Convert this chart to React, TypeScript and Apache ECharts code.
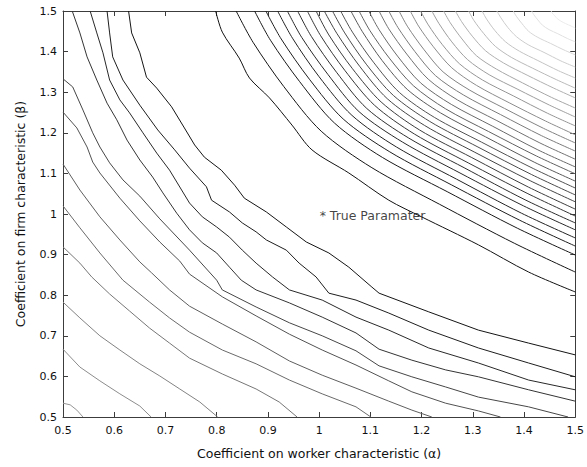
import React, { useEffect, useRef } from 'react';
import * as echarts from 'echarts';

type Pt = [number, number];

// ---- axis settings / texts ----
const axisMin = 0.5;
const axisMax = 1.5;
const axisStep = 0.1;
const xName = 'Coefficient on worker characteristic (α)';
const yName = 'Coefficient on firm characteristic (β)';
const trueLabel = '* True Paramater';
const trueParameter: Pt[] = [[1, 1]];

// ---- lower-left family of contours (alpha, beta) ----
const L1: Pt[] = [[0.5, 0.534], [0.514, 0.53], [0.527, 0.517], [0.539, 0.5]];
const L2: Pt[] = [[0.5, 0.667], [0.533, 0.623], [0.572, 0.589], [0.611, 0.557], [0.65, 0.527], [0.672, 0.5]];
const L3: Pt[] = [[0.5, 0.783], [0.533, 0.744], [0.572, 0.7], [0.611, 0.665], [0.65, 0.631], [0.689, 0.601], [0.728, 0.569], [0.767, 0.537], [0.802, 0.5]];
const L4: Pt[] = [[0.5, 0.919], [0.533, 0.879], [0.556, 0.845], [0.591, 0.803], [0.63, 0.761], [0.669, 0.719], [0.708, 0.682], [0.747, 0.645], [0.811, 0.606], [0.877, 0.569], [0.922, 0.537], [0.957, 0.5]];
const L5: Pt[] = [[0.5, 1.02], [0.533, 0.966], [0.572, 0.904], [0.617, 0.837], [0.669, 0.783], [0.708, 0.744], [0.747, 0.709], [0.811, 0.665], [0.877, 0.631], [0.942, 0.591], [1.006, 0.557], [1.072, 0.525], [1.101, 0.5]];
const L6: Pt[] = [[0.5, 1.123], [0.533, 1.059], [0.572, 0.993], [0.611, 0.936], [0.65, 0.882], [0.673, 0.855], [0.708, 0.813], [0.747, 0.773], [0.811, 0.729], [0.877, 0.685], [0.942, 0.638], [1.006, 0.603], [1.072, 0.571], [1.136, 0.539], [1.181, 0.517], [1.22, 0.5]];
const L7: Pt[] = [[0.5, 1.251], [0.527, 1.212], [0.547, 1.165], [0.558, 1.128], [0.572, 1.101], [0.611, 1.039], [0.65, 0.983], [0.689, 0.931], [0.728, 0.884], [0.747, 0.852], [0.811, 0.796], [0.877, 0.749], [0.942, 0.704], [1.006, 0.665], [1.072, 0.628], [1.136, 0.589], [1.181, 0.562], [1.247, 0.534], [1.311, 0.515], [1.354, 0.5]];
const L8: Pt[] = [[0.5, 1.333], [0.519, 1.313], [0.539, 1.256], [0.558, 1.2], [0.572, 1.165], [0.591, 1.126], [0.617, 1.084], [0.65, 1.044], [0.689, 0.988], [0.747, 0.911], [0.8, 0.837], [0.811, 0.813], [0.877, 0.771], [0.942, 0.732], [1.006, 0.7], [1.072, 0.663], [1.117, 0.626], [1.181, 0.599], [1.247, 0.574], [1.311, 0.549], [1.409, 0.525], [1.486, 0.5]];
const L9: Pt[] = [[0.518, 1.5], [0.533, 1.446], [0.547, 1.387], [0.566, 1.33], [0.586, 1.273], [0.605, 1.232], [0.625, 1.182], [0.65, 1.133], [0.675, 1.091], [0.695, 1.052], [0.722, 1.002], [0.747, 0.961], [0.772, 0.929], [0.8, 0.904], [0.825, 0.869], [0.848, 0.837], [0.877, 0.813], [0.942, 0.781], [1.006, 0.746], [1.072, 0.707], [1.117, 0.667], [1.181, 0.64], [1.247, 0.616], [1.311, 0.599], [1.409, 0.567], [1.5, 0.539]];
const L10: Pt[] = [[0.553, 1.5], [0.566, 1.446], [0.578, 1.397], [0.591, 1.33], [0.611, 1.281], [0.63, 1.249], [0.656, 1.2], [0.683, 1.15], [0.708, 1.108], [0.747, 1.027], [0.772, 0.993], [0.8, 0.968], [0.825, 0.943], [0.85, 0.911], [0.877, 0.879], [0.909, 0.845], [0.942, 0.813], [1.006, 0.788], [1.072, 0.746], [1.136, 0.714], [1.214, 0.67], [1.311, 0.633], [1.409, 0.591], [1.5, 0.567]];
const L11: Pt[] = [[0.586, 1.5], [0.591, 1.446], [0.597, 1.387], [0.617, 1.33], [0.65, 1.268], [0.685, 1.207], [0.718, 1.158], [0.747, 1.113], [0.78, 1.067], [0.79, 1.034], [0.825, 1.005], [0.85, 0.978], [0.877, 0.956], [0.897, 0.936], [0.936, 0.911], [0.961, 0.879], [0.994, 0.845], [1.019, 0.805], [1.072, 0.788], [1.136, 0.756], [1.214, 0.714], [1.311, 0.67], [1.409, 0.633], [1.5, 0.599]];
const L12: Pt[] = [[0.628, 1.5], [0.634, 1.446], [0.65, 1.397], [0.663, 1.337], [0.683, 1.31], [0.712, 1.264], [0.737, 1.212], [0.757, 1.17], [0.776, 1.14], [0.809, 1.108], [0.835, 1.071], [0.854, 1.039], [0.897, 1.005], [0.936, 0.968], [0.975, 0.931], [1.019, 0.904], [1.058, 0.869], [1.103, 0.82], [1.117, 0.805], [1.214, 0.759], [1.311, 0.714], [1.409, 0.682], [1.5, 0.653]];

// ---- upper-right family of contours (alpha, beta) ----
const U1: Pt[] = [[0.798, 1.5], [0.811, 1.448], [0.844, 1.384], [0.864, 1.335], [0.903, 1.286], [0.947, 1.219], [0.986, 1.158], [1.058, 1.101], [1.136, 1.034], [1.2, 0.993], [1.311, 0.924], [1.409, 0.857], [1.5, 0.808]];
const U2: Pt[] = [[0.838, 1.5], [0.871, 1.423], [0.931, 1.314], [1.004, 1.204], [1.103, 1.114], [1.235, 1.024], [1.381, 0.928], [1.5, 0.857]];
const U3: Pt[] = [[0.874, 1.5], [0.905, 1.428], [0.962, 1.326], [1.03, 1.224], [1.124, 1.139], [1.25, 1.055], [1.387, 0.965], [1.5, 0.899]];
const U4: Pt[] = [[0.896, 1.5], [0.926, 1.431], [0.981, 1.332], [1.047, 1.234], [1.138, 1.153], [1.258, 1.072], [1.391, 0.985], [1.5, 0.921]];
const U5: Pt[] = [[0.919, 1.5], [0.948, 1.433], [1.0, 1.338], [1.064, 1.243], [1.151, 1.165], [1.268, 1.086], [1.395, 1.002], [1.5, 0.941]];
const U6: Pt[] = [[0.938, 1.5], [0.966, 1.435], [1.017, 1.344], [1.078, 1.252], [1.163, 1.177], [1.275, 1.101], [1.399, 1.02], [1.5, 0.961]];
const U7: Pt[] = [[0.958, 1.5], [0.985, 1.437], [1.034, 1.349], [1.093, 1.26], [1.175, 1.187], [1.283, 1.114], [1.402, 1.035], [1.5, 0.978]];
const U8: Pt[] = [[0.977, 1.5], [1.003, 1.439], [1.05, 1.354], [1.108, 1.268], [1.186, 1.197], [1.291, 1.126], [1.406, 1.051], [1.5, 0.995]];
const U9: Pt[] = [[0.994, 1.5], [1.019, 1.441], [1.065, 1.358], [1.121, 1.276], [1.196, 1.207], [1.298, 1.139], [1.409, 1.066], [1.5, 1.012]];
const U10: Pt[] = [[1.01, 1.5], [1.035, 1.444], [1.079, 1.364], [1.133, 1.284], [1.206, 1.218], [1.304, 1.152], [1.412, 1.082], [1.5, 1.03]];
const U11: Pt[] = [[1.026, 1.5], [1.05, 1.446], [1.092, 1.369], [1.145, 1.292], [1.216, 1.228], [1.31, 1.165], [1.415, 1.097], [1.5, 1.047]];
const U12: Pt[] = [[1.042, 1.5], [1.065, 1.448], [1.106, 1.374], [1.157, 1.299], [1.225, 1.238], [1.317, 1.177], [1.418, 1.112], [1.5, 1.064]];
const U13: Pt[] = [[1.062, 1.5], [1.084, 1.45], [1.123, 1.378], [1.172, 1.307], [1.237, 1.249], [1.325, 1.19], [1.421, 1.127], [1.5, 1.081]];
const U14: Pt[] = [[1.078, 1.5], [1.099, 1.452], [1.137, 1.384], [1.184, 1.316], [1.247, 1.259], [1.331, 1.203], [1.424, 1.143], [1.5, 1.099]];
const U15: Pt[] = [[1.097, 1.5], [1.117, 1.454], [1.153, 1.389], [1.198, 1.323], [1.258, 1.27], [1.339, 1.216], [1.427, 1.158], [1.5, 1.116]];
const U16: Pt[] = [[1.117, 1.5], [1.136, 1.456], [1.171, 1.394], [1.213, 1.332], [1.27, 1.281], [1.347, 1.23], [1.431, 1.175], [1.5, 1.135]];
const U17: Pt[] = [[1.136, 1.5], [1.154, 1.459], [1.187, 1.4], [1.227, 1.341], [1.282, 1.293], [1.354, 1.245], [1.434, 1.193], [1.5, 1.155]];
const U18: Pt[] = [[1.156, 1.5], [1.173, 1.461], [1.204, 1.406], [1.242, 1.35], [1.294, 1.305], [1.362, 1.26], [1.438, 1.211], [1.5, 1.175]];
const U19: Pt[] = [[1.178, 1.5], [1.194, 1.463], [1.223, 1.412], [1.259, 1.36], [1.307, 1.317], [1.371, 1.274], [1.442, 1.229], [1.5, 1.195]];
const U20: Pt[] = [[1.198, 1.5], [1.213, 1.466], [1.24, 1.418], [1.274, 1.37], [1.319, 1.33], [1.379, 1.291], [1.446, 1.248], [1.5, 1.217]];
const U21: Pt[] = [[1.22, 1.5], [1.234, 1.469], [1.259, 1.424], [1.29, 1.38], [1.332, 1.343], [1.388, 1.307], [1.45, 1.268], [1.5, 1.239]];
const U22: Pt[] = [[1.243, 1.5], [1.256, 1.471], [1.279, 1.431], [1.307, 1.39], [1.346, 1.357], [1.397, 1.323], [1.454, 1.287], [1.5, 1.261]];
const U23: Pt[] = [[1.266, 1.5], [1.278, 1.474], [1.299, 1.438], [1.325, 1.402], [1.36, 1.372], [1.406, 1.342], [1.458, 1.31], [1.5, 1.286]];
const U24: Pt[] = [[1.292, 1.5], [1.302, 1.477], [1.321, 1.445], [1.344, 1.413], [1.375, 1.386], [1.417, 1.359], [1.463, 1.331], [1.5, 1.31]];
const U25: Pt[] = [[1.318, 1.5], [1.327, 1.48], [1.343, 1.452], [1.364, 1.424], [1.391, 1.401], [1.427, 1.378], [1.467, 1.353], [1.5, 1.335]];
const U26: Pt[] = [[1.347, 1.5], [1.355, 1.483], [1.368, 1.46], [1.385, 1.437], [1.408, 1.417], [1.439, 1.398], [1.472, 1.377], [1.5, 1.362]];
const U27: Pt[] = [[1.379, 1.5], [1.385, 1.487], [1.396, 1.469], [1.409, 1.45], [1.427, 1.435], [1.452, 1.42], [1.478, 1.404], [1.5, 1.392]];
const U28: Pt[] = [[1.415, 1.5], [1.419, 1.491], [1.427, 1.478], [1.436, 1.465], [1.449, 1.454], [1.466, 1.444], [1.485, 1.432], [1.5, 1.424]];
const U29: Pt[] = [[1.453, 1.5], [1.455, 1.495], [1.46, 1.488], [1.465, 1.481], [1.472, 1.475], [1.481, 1.469], [1.492, 1.463], [1.5, 1.458]];

const lowerContours: Pt[][] = [L1, L2, L3, L4, L5, L6, L7, L8, L9, L10, L11, L12];
const upperContours: Pt[][] = [U1, U2, U3, U4, U5, U6, U7, U8, U9, U10, U11, U12, U13, U14, U15, U16, U17, U18, U19, U20, U21, U22, U23, U24, U25, U26, U27, U28, U29];

const lowerColors = ['#959595', '#8c8c8c', '#828282', '#767676', '#6a6a6a', '#5e5e5e', '#525252', '#464646', '#343434', '#282828', '#1e1e1e', '#141414'];

function grayHex(g: number): string {
  const h = Math.max(0, Math.min(255, Math.round(g))).toString(16).padStart(2, '0');
  return '#' + h + h + h;
}

const FONT = 'DejaVu Sans';
const FRAME = '#3c3c3c';

export default function App() {
  const ref = useRef<HTMLDivElement>(null);

  useEffect(() => {
    document.body.style.margin = '0';
    if (!ref.current) return;
    const chart = echarts.init(ref.current, null, { renderer: 'svg' });

    const axisCommon = {
      type: 'value' as const,
      min: axisMin,
      max: axisMax,
      interval: axisStep,
      axisLine: { show: true, onZero: false, lineStyle: { color: FRAME, width: 1 } },
      axisTick: { show: true, inside: true, length: 5, lineStyle: { color: FRAME, width: 1 } },
      splitLine: { show: false },
    };

    const n = upperContours.length;
    const series: any[] = [];
    lowerContours.forEach((d, i) => {
      series.push({
        type: 'line',
        data: d,
        showSymbol: false,
        symbol: 'none',
        silent: true,
        lineStyle: { width: 1, color: lowerColors[i] },
        z: 2,
      });
    });
    upperContours.forEach((d, i) => {
      const t = i / (n - 1);
      series.push({
        type: 'line',
        data: d,
        smooth: 0.3,
        showSymbol: false,
        symbol: 'none',
        silent: true,
        lineStyle: { width: 1, color: grayHex(18 + 217 * Math.pow(t, 1.3)) },
        z: 2,
      });
    });
    series.push({
      type: 'scatter',
      data: trueParameter,
      symbolSize: 1,
      silent: true,
      itemStyle: { color: 'rgba(0,0,0,0)' },
      label: {
        show: true,
        position: 'right',
        distance: 0,
        offset: [0, 1],
        formatter: trueLabel,
        fontSize: 12.5,
        color: '#111',
        fontFamily: FONT,
      },
      z: 5,
    });

    chart.setOption({
      animation: false,
      backgroundColor: '#ffffff',
      grid: { left: 63, right: 10, top: 11, bottom: 50 },
      xAxis: [
        {
          ...axisCommon,
          position: 'bottom',
          axisLabel: { show: true, margin: 8, fontSize: 11, color: '#111', fontFamily: FONT },
          name: xName,
          nameLocation: 'middle',
          nameGap: 30,
          nameTextStyle: { fontSize: 12.5, color: '#111', fontFamily: FONT },
        },
        {
          ...axisCommon,
          position: 'top',
          axisLabel: { show: false },
        },
      ],
      yAxis: [
        {
          ...axisCommon,
          position: 'left',
          axisLabel: { show: true, margin: 6, fontSize: 11, color: '#111', fontFamily: FONT },
          name: yName,
          nameLocation: 'middle',
          nameGap: 36,
          nameTextStyle: { fontSize: 12.5, color: '#111', fontFamily: FONT },
        },
        {
          ...axisCommon,
          position: 'right',
          axisLabel: { show: false },
        },
      ],
      series,
    });

    return () => {
      chart.dispose();
    };
  }, []);

  return <div ref={ref} style={{ width: 587, height: 467 }} />;
}
